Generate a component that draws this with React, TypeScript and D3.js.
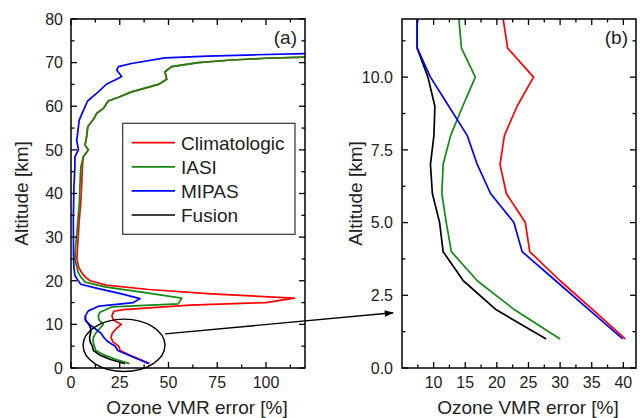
import React from "react";
import * as d3 from "d3";

// ---------- data (altitude in km, error in %) ----------
const altLow = [1, 2, 3, 4, 5, 6, 7, 8, 9, 10, 11, 12];
const climLow = [40.3, 35.2, 30, 25.2, 24.5, 21.5, 20.5, 21.2, 23.2, 25.8, 21.7, 21.0];
const iasiLow = [30, 22.8, 16.9, 12.8, 12.0, 11.3, 11.5, 12.7, 14.6, 16.6, 14.4, 14.0];
const mipasLow = [39.9, 34.6, 29.3, 24.0, 22.7, 19.0, 16.9, 15.3, 12.4, 9.5, 7.4, 7.4];
const fusionLow = [27.8, 19.9, 14.7, 11.5, 10.95, 9.8, 9.5, 10.05, 10.2, 9.1, 7.4, 7.4];

const climMidAlt = [13, 13.4, 14.4, 15, 16, 17, 18, 19, 20, 21, 22, 23, 25, 28, 33, 38, 42, 46];
const climMidVal = [22, 27, 61, 100, 114.5, 72, 40, 18, 9.8, 7, 5.3, 4, 3, 3.4, 4.1, 5.0, 5.5, 5.8];

const iasiMidAlt = [12.8, 14, 14.7, 16, 17.4, 18.6, 19.7, 21, 22, 25, 28, 33, 38, 42, 46];
const iasiMidVal = [14.9, 20.9, 55, 56.8, 36.2, 17.4, 7.2, 4.8, 3.6, 2, 2.4, 3.4, 4.3, 4.6, 5.0];

// upper mesosphere part shared by Climatologic and IASI
const topAlt = [48.4, 50, 51.1, 53, 55.3, 57, 58.4, 59.5, 61.2, 62, 63.3, 65, 66.2, 67.9, 69.1, 70, 70.6, 71.0, 71.3];
const topVal = [6.3, 8.9, 7.2, 8.0, 8.6, 11.5, 13.2, 16.6, 19.1, 24, 31.1, 44.8, 49.1, 48.2, 51.6, 65.2, 82.4, 100, 125];

const mipasUpAlt = [13.1, 14.2, 15.0, 15.9, 17, 18.2, 19.2, 20.2, 21.2, 23, 26, 34, 41.5, 46, 48.4, 50, 52.3, 53, 56.8, 59.9, 61.2, 63.3, 65.1, 66, 66.8, 68.3, 69.1, 69.8, 71.1, 71.5, 71.8, 72.1];
const mipasUpVal = [8.9, 14.5, 32, 35.4, 26, 14, 5, 3.4, 2, 1.5, 1.3, 1.2, 1.5, 2, 2, 3.8, 2.9, 3.2, 4.2, 7.2, 8.5, 14, 18.3, 22.6, 26, 23.4, 24.3, 31, 48.2, 70, 95, 125];

const seriesNames = ["Climatologic", "IASI", "MIPAS", "Fusion"];
const seriesColors = ["#ff0000", "#138a13", "#0000ff", "#000000"];

const xTicksA = [0, 25, 50, 75, 100];
const yTicksA = [0, 10, 20, 30, 40, 50, 60, 70, 80];
const xTicksB = [10, 15, 20, 25, 30, 35, 40];
const yTicksB = [0, 2.5, 5, 7.5, 10];

type P = [number, number]; // [value, altitude]
const zipPts = (alts: number[], vals: number[]): P[] => alts.map((a, i) => [vals[i], a]);

const climFull: P[] = [...zipPts(altLow, climLow), ...zipPts(climMidAlt, climMidVal), ...zipPts(topAlt, topVal)];
const iasiFull: P[] = [...zipPts(altLow, iasiLow), ...zipPts(iasiMidAlt, iasiMidVal), ...zipPts(topAlt, topVal)];
const mipasFull: P[] = [...zipPts(altLow, mipasLow), ...zipPts(mipasUpAlt, mipasUpVal)];
const fusionFull: P[] = zipPts(altLow, fusionLow);

const FONT = "'Liberation Sans', Arial, Helvetica, sans-serif";

function Panel(props: {
  id: string;
  x: d3.ScaleLinear<number, number>;
  y: d3.ScaleLinear<number, number>;
  xMajor: number[];
  xMinor: number[];
  yMajor: number[];
  yMinor: number[];
  yFmt: (v: number) => string;
  yLabelGap: number;
  lines: { pts: P[]; color: string }[];
  tag: string;
  titleX: number;
  yTitleX: number;
}) {
  const { id, x, y, xMajor, xMinor, yMajor, yMinor, yFmt, yLabelGap, lines, tag, titleX, yTitleX } = props;
  const [x0, x1] = x.range();
  const [yb, yt] = y.range();
  const line = d3
    .line<P>()
    .x((d) => x(d[0]))
    .y((d) => y(d[1]));
  const maj = 6;
  const mnr = 3.5;
  return (
    <g>
      <defs>
        <clipPath id={id}>
          <rect x={x0} y={yt} width={x1 - x0} height={yb - yt} />
        </clipPath>
      </defs>
      <g clipPath={`url(#${id})`}>
        {lines.map((l, i) => (
          <path key={i} d={line(l.pts) || ""} fill="none" stroke={l.color} strokeWidth={1.7} strokeLinejoin="round" />
        ))}
      </g>
      {/* ticks */}
      <g stroke="#000" strokeWidth={1.3}>
        {xMajor.map((v) => (
          <g key={"xm" + v}>
            <line x1={x(v)} x2={x(v)} y1={yb} y2={yb - maj} />
            <line x1={x(v)} x2={x(v)} y1={yt} y2={yt + maj} />
          </g>
        ))}
        {xMinor.map((v) => (
          <g key={"xn" + v}>
            <line x1={x(v)} x2={x(v)} y1={yb} y2={yb - mnr} />
            <line x1={x(v)} x2={x(v)} y1={yt} y2={yt + mnr} />
          </g>
        ))}
        {yMajor.map((v) => (
          <g key={"ym" + v}>
            <line x1={x0} x2={x0 + maj} y1={y(v)} y2={y(v)} />
            <line x1={x1} x2={x1 - maj} y1={y(v)} y2={y(v)} />
          </g>
        ))}
        {yMinor.map((v) => (
          <g key={"yn" + v}>
            <line x1={x0} x2={x0 + mnr} y1={y(v)} y2={y(v)} />
            <line x1={x1} x2={x1 - mnr} y1={y(v)} y2={y(v)} />
          </g>
        ))}
      </g>
      <rect x={x0} y={yt} width={x1 - x0} height={yb - yt} fill="none" stroke="#000" strokeWidth={1.5} />
      {/* tick labels */}
      <g fontFamily={FONT} fontSize={16} fill="#222">
        {xMajor.map((v) => (
          <text key={"xl" + v} x={x(v)} y={yb + 20} textAnchor="middle">
            {String(v)}
          </text>
        ))}
        {yMajor.map((v) => (
          <text key={"yl" + v} x={x0 - yLabelGap} y={y(v)} dy="0.36em" textAnchor="end">
            {yFmt(v)}
          </text>
        ))}
      </g>
      <text x={x1 - 8} y={yt + 25} fontFamily={FONT} fontSize={19} textAnchor="end" fill="#222">
        {tag}
      </text>
      <text x={titleX} y={414} fontFamily={FONT} fontSize={19} textAnchor="middle" fill="#222">
        Ozone VMR error [%]
      </text>
      <text
        transform={`translate(${yTitleX},${(yb + yt) / 2}) rotate(-90)`}
        fontFamily={FONT}
        fontSize={19}
        textAnchor="middle"
        fill="#222"
      >
        Altitude [km]
      </text>
    </g>
  );
}

export default function App() {
  const xA = d3.scaleLinear().domain([0, 120]).range([71, 305]);
  const yA = d3.scaleLinear().domain([0, 80]).range([368, 19]);
  const xB = d3.scaleLinear().domain([5, 42]).range([402, 636]);
  const yB = d3.scaleLinear().domain([0, 12]).range([368, 19]);

  const fullSeries = [fusionFull, climFull, iasiFull, mipasFull];
  const fullColors = [seriesColors[3], seriesColors[0], seriesColors[1], seriesColors[2]];
  const linesA = fullSeries.map((pts, i) => ({ pts, color: fullColors[i] }));
  const lowSeries = [fusionLow, climLow, iasiLow, mipasLow];
  const linesB = lowSeries.map((vals, i) => ({ pts: zipPts(altLow, vals), color: fullColors[i] }));

  const xMinorA = d3.range(12.5, 120, 25);
  const yMinorA = d3.range(5, 80, 10);
  const xMinorB = d3.range(7.5, 42, 5);
  const yMinorB = d3.range(1.25, 12, 2.5);
  const yMajorB = [...yTicksB];

  // zoom ellipse & arrow
  const ecx = xA(27.2);
  const ecy = yA(5.2);
  const erx = xA(48.2) - xA(27.2);
  const ery = yA(0) - yA(6);
  const ax1 = ecx + erx;
  const ay1 = yA(7.8);
  const ax2 = xB(5) - 9;
  const ay2 = yB(1.9);

  const legX = 122.7;
  const legY = 123.3;

  return (
    <svg
      width={640}
      height={418}
      viewBox="0 0 640 418"
      style={{ position: "absolute", left: 0, top: 0, background: "#fff" }}
    >
      <rect x={0} y={0} width={640} height={418} fill="#fff" />
      <defs>
        <marker id="arr" viewBox="0 0 10 10" refX={9} refY={5} markerWidth={8} markerHeight={7} orient="auto">
          <path d="M0,1.5 L10,5 L0,8.5 Z" fill="#000" />
        </marker>
      </defs>
      <Panel
        id="clipA"
        x={xA}
        y={yA}
        xMajor={xTicksA}
        xMinor={xMinorA}
        yMajor={yTicksA}
        yMinor={yMinorA}
        yFmt={(v) => String(v)}
        yLabelGap={8}
        lines={linesA}
        tag="(a)"
        titleX={197}
        yTitleX={28}
      />
      <Panel
        id="clipB"
        x={xB}
        y={yB}
        xMajor={xTicksB}
        xMinor={xMinorB}
        yMajor={yMajorB}
        yMinor={yMinorB}
        yFmt={(v) => d3.format(".1f")(v)}
        yLabelGap={9}
        lines={linesB}
        tag="(b)"
        titleX={528}
        yTitleX={362}
      />
      {/* legend */}
      <rect x={legX} y={legY} width={172.3} height={111} fill="#fff" stroke="#333" strokeWidth={1.2} />
      {seriesNames.map((name, i) => {
        const yy = 142.7 + i * 24.1;
        return (
          <g key={name}>
            <line x1={131.7} x2={175} y1={yy} y2={yy} stroke={seriesColors[i]} strokeWidth={1.7} />
            <text x={181} y={yy} dy="0.36em" fontFamily={FONT} fontSize={19} fill="#222">
              {name}
            </text>
          </g>
        );
      })}
      {/* zoom annotation */}
      <ellipse cx={ecx} cy={ecy} rx={erx} ry={ery} fill="none" stroke="#000" strokeWidth={1.4} />
      <line x1={ax1} y1={ay1} x2={ax2} y2={ay2} stroke="#000" strokeWidth={1.3} markerEnd="url(#arr)" />
    </svg>
  );
}
